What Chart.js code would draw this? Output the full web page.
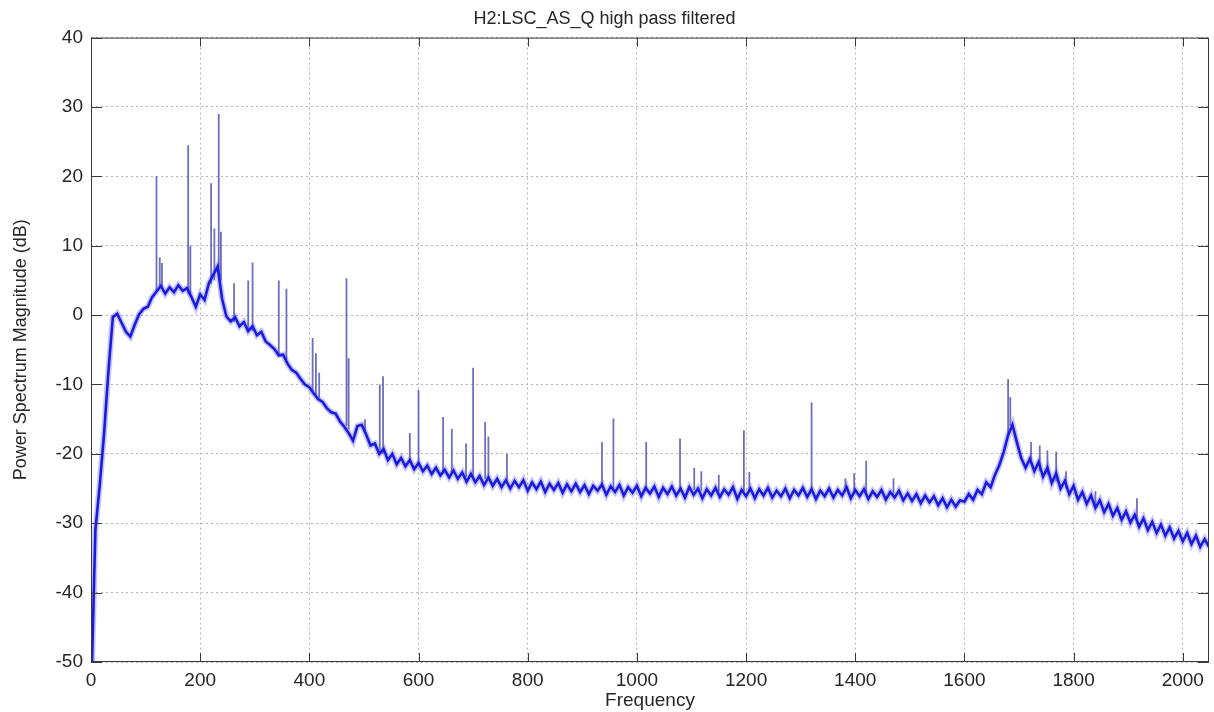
<!DOCTYPE html>
<html>
<head>
<meta charset="utf-8">
<title>H2:LSC_AS_Q high pass filtered</title>
<script src="https://cdn.jsdelivr.net/npm/chart.js@4.4.1/dist/chart.umd.min.js"></script>
<style>
  html, body { margin: 0; padding: 0; background: #fff; }
  #wrap { width: 1214px; height: 712px; }
</style>
</head>
<body>
<div id="wrap"><canvas id="psd" width="1214" height="712"></canvas></div>
<script>
const getEl = (id) => document.getElementById(id);

// --- chart text ---
const chartTitle = 'H2:LSC_AS_Q high pass filtered';
const xTitle = 'Frequency';
const yTitle = 'Power Spectrum Magnitude (dB)';

// --- axis ticks ---
const xTicks = [0, 200, 400, 600, 800, 1000, 1200, 1400, 1600, 1800, 2000];
const yTicks = [-50, -40, -30, -20, -10, 0, 10, 20, 30, 40];
const xMax = 2048;

// --- noise floor of the spectrum (Hz / dB) ---
const floorFreq = [
  0, 8, 16, 24, 32, 40, 48, 56, 64, 72, 80, 88, 96, 104, 112, 120,
  128, 136, 144, 152, 160, 168, 176, 184, 192, 200, 208, 216, 224, 232, 240, 248,
  256, 264, 272, 280, 288, 296, 304, 312, 320, 328, 336, 344, 352, 360, 368, 376,
  384, 392, 400, 408, 416, 424, 432, 440, 448, 456, 464, 472, 480, 488, 496, 504,
  512, 520, 528, 536, 544, 552, 560, 568, 576, 584, 592, 600, 608, 616, 624, 632,
  640, 648, 656, 664, 672, 680, 688, 696, 704, 712, 720, 728, 736, 744, 752, 760,
  768, 776, 784, 792, 800, 808, 816, 824, 832, 840, 848, 856, 864, 872, 880, 888,
  896, 904, 912, 920, 928, 936, 944, 952, 960, 968, 976, 984, 992, 1000, 1008, 1016,
  1024, 1032, 1040, 1048, 1056, 1064, 1072, 1080, 1088, 1096, 1104, 1112, 1120, 1128, 1136, 1144,
  1152, 1160, 1168, 1176, 1184, 1192, 1200, 1208, 1216, 1224, 1232, 1240, 1248, 1256, 1264, 1272,
  1280, 1288, 1296, 1304, 1312, 1320, 1328, 1336, 1344, 1352, 1360, 1368, 1376, 1384, 1392, 1400,
  1408, 1416, 1424, 1432, 1440, 1448, 1456, 1464, 1472, 1480, 1488, 1496, 1504, 1512, 1520, 1528,
  1536, 1544, 1552, 1560, 1568, 1576, 1584, 1592, 1600, 1608, 1616, 1624, 1632, 1640, 1648, 1656,
  1664, 1672, 1680, 1688, 1696, 1704, 1712, 1720, 1728, 1736, 1744, 1752, 1760, 1768, 1776, 1784,
  1792, 1800, 1808, 1816, 1824, 1832, 1840, 1848, 1856, 1864, 1872, 1880, 1888, 1896, 1904, 1912,
  1920, 1928, 1936, 1944, 1952, 1960, 1968, 1976, 1984, 1992, 2000, 2008, 2016, 2024, 2032, 2040,
  2048
];
const floorDb = [
  -56, -31, -24.5, -17, -8, -0.3, 0.2, -1.1, -2.4, -3.1, -1.4, 0.1, 0.9, 1.2, 2.6, 3.4,
  4.2, 3.1, 4.0, 3.3, 4.3, 3.5, 3.9, 2.6, 1.2, 3.0, 2.2, 4.6, 5.8, 7.0, 2.4, -0.2,
  -0.9, -0.3, -1.6, -1.0, -2.3, -1.6, -2.9, -2.4, -3.8, -4.3, -4.9, -5.8, -5.7, -7.0, -7.9, -8.3,
  -9.2, -10.0, -10.4, -11.3, -12.1, -12.5, -13.4, -14.0, -14.2, -15.3, -16.1, -17.0, -18.1, -16.0, -15.8, -17.2,
  -18.8, -18.5, -20.0, -19.3, -20.9, -20.0, -21.5, -20.6, -21.8, -20.9, -22.2, -21.3, -22.5, -21.7, -22.9, -22.0,
  -23.1, -22.3, -23.4, -22.4, -23.6, -22.7, -24.0, -22.9, -24.1, -23.2, -24.5, -23.4, -24.6, -23.6, -24.8, -23.8,
  -25.0, -23.9, -24.8, -23.8, -25.3, -24.1, -25.1, -24.0, -25.5, -24.3, -25.2, -24.2, -25.6, -24.4, -25.4, -24.3,
  -25.5, -24.5, -25.8, -24.6, -25.3, -24.4, -25.9, -24.7, -25.5, -24.5, -26.0, -24.8, -25.6, -24.6, -26.1, -24.9,
  -25.7, -24.7, -26.2, -24.9, -25.8, -24.7, -26.0, -25.0, -26.3, -24.8, -25.9, -25.0, -26.4, -25.1, -26.0, -24.9,
  -26.2, -25.1, -25.9, -24.8, -26.5, -25.2, -26.1, -25.0, -26.4, -25.1, -26.0, -24.9, -26.3, -25.3, -26.1, -25.0,
  -26.4, -25.2, -26.0, -24.9, -26.2, -25.1, -26.5, -25.3, -26.1, -25.0, -26.3, -25.2, -26.0, -24.8, -26.4, -25.2,
  -26.1, -25.1, -26.5, -25.4, -26.2, -25.2, -26.6, -25.5, -26.3, -25.3, -26.7, -25.7, -26.8, -25.8, -27.1, -26.0,
  -27.0, -26.1, -27.4, -26.4, -27.7, -26.6, -27.6, -26.7, -26.9, -25.8, -26.6, -25.2, -25.8, -24.1, -24.8, -23.0,
  -21.6, -19.7, -17.3, -15.8, -18.3, -20.6, -22.0, -20.7, -22.5, -21.2, -23.3, -22.0, -24.2, -22.8, -25.0, -23.9,
  -25.8, -24.6, -26.6, -25.5, -27.2, -26.0, -27.8, -26.7, -28.4, -27.2, -28.9, -27.8, -29.5, -28.3, -29.9, -28.8,
  -30.5, -29.3, -31.0, -29.8, -31.4, -30.2, -31.8, -30.6, -32.2, -31.1, -32.6, -31.4, -33.0, -31.8, -33.4, -32.3,
  -33.4
];

// --- narrow lines sticking out of the floor: frequency, foot and top (dB) ---
const lineFreq = [120, 126, 130, 178, 182, 220, 226, 234, 238, 262, 288, 296, 344, 358, 406, 412, 418, 468, 472, 502,
  529, 535, 584, 600, 645, 661, 687, 700, 722, 728, 762, 936, 957, 1017, 1079, 1105, 1118, 1150, 1196, 1206,
  1320, 1382, 1398, 1420, 1470, 1680, 1684, 1722, 1738, 1752, 1768, 1786, 1840, 1916];
const lineFoot = [3.5, 4, 4, 3, 3, 4.5, 5, 6, 5, -1, -2, -2.3, -6, -6.5, -11, -11.5, -12, -16, -16.5, -17,
  -19.5, -20, -21.3, -21.8, -22.6, -22.9, -23.3, -23.3, -23.6, -23.6, -24, -24.9, -25, -25.1, -25.2, -25.2, -25.3, -25.4, -25.4, -25.4,
  -25.5, -25.5, -25.5, -25.6, -25.8, -17, -16, -21.5, -22.5, -23, -24, -25, -27.5, -29.8];
const lineTop = [20, 8.3, 7.5, 24.5, 10, 19, 12.5, 29, 12, 4.6, 5, 7.6, 5, 3.8, -3.3, -5.5, -8.3, 5.3, -6.2, -15,
  -10, -8.8, -17, -10.8, -14.7, -16.4, -18.5, -7.6, -15.4, -17.5, -20, -18.3, -14.9, -18.3, -17.8, -22, -22.5, -23, -16.6, -22.6,
  -12.6, -23.5, -22.8, -21, -23.5, -9.2, -11.8, -18.3, -18.8, -19.5, -19.7, -22.5, -25.4, -26.4];

// build the point lists the library wants
const floorPoints = floorFreq.map((f, i) => ({ x: f, y: floorDb[i] }));
const linePoints = [];
lineFreq.forEach((f, i) => {
  linePoints.push({ x: f, y: lineFoot[i] }, { x: f, y: lineTop[i] }, { x: f, y: null });
});

const textFont = 'Liberation Sans, Arial, Helvetica, sans-serif';
const textColor = '#262626';

// MATLAB-like box with inward tick marks on all four sides
const matlabBox = {
  id: 'matlabBox',
  afterDatasetsDraw(chart) {
    const { ctx, chartArea: a, scales: { x, y } } = chart;
    ctx.save();
    ctx.strokeStyle = '#3a3a3a';
    ctx.lineWidth = 1;
    ctx.strokeRect(a.left + 0.5, a.top + 0.5, a.right - a.left - 1, a.bottom - a.top - 1);
    ctx.beginPath();
    x.ticks.forEach(t => {
      const px = Math.round(x.getPixelForValue(t.value)) + 0.5;
      ctx.moveTo(px, a.bottom); ctx.lineTo(px, a.bottom - 9);
      ctx.moveTo(px, a.top); ctx.lineTo(px, a.top + 9);
    });
    y.ticks.forEach(t => {
      const py = Math.round(y.getPixelForValue(t.value)) + 0.5;
      ctx.moveTo(a.left, py); ctx.lineTo(a.left + 11, py);
      ctx.moveTo(a.right, py); ctx.lineTo(a.right - 11, py);
    });
    ctx.stroke();
    ctx.restore();
  }
};

new Chart(getEl('psd').getContext('2d'), {
  type: 'line',
  data: {
    datasets: [
      {
        // main trace
        data: floorPoints,
        borderColor: '#1a1ae0',
        borderWidth: 2.6,
        pointRadius: 0,
        tension: 0,
        order: 0
      },
      {
        // soft halo, the scan in the picture is a bit blurred
        data: floorPoints,
        borderColor: 'rgba(90, 90, 240, 0.35)',
        borderWidth: 6,
        pointRadius: 0,
        tension: 0,
        order: 1
      },
      {
        data: linePoints,
        borderColor: 'rgba(75, 75, 175, 0.8)',
        borderWidth: 1.8,
        pointRadius: 0,
        tension: 0,
        spanGaps: false,
        order: 2
      }
    ]
  },
  options: {
    responsive: false,
    animation: false,
    layout: { padding: { left: 0, right: 5, top: 0, bottom: 0 } },
    plugins: {
      legend: { display: false },
      tooltip: { enabled: false },
      title: {
        display: true,
        text: chartTitle,
        color: textColor,
        font: { family: textFont, size: 18, weight: 'normal' },
        padding: { top: 8, bottom: 8 }
      }
    },
    scales: {
      x: {
        type: 'linear',
        min: 0,
        max: xMax,
        afterBuildTicks: (axis) => { axis.ticks = xTicks.map(v => ({ value: v })); },
        afterFit: (axis) => { axis.height = 50; },
        grid: { color: '#b4b4b4', drawTicks: false },
        border: { display: false, dash: [2, 3] },
        ticks: {
          color: textColor,
          padding: 7,
          maxRotation: 0,
          autoSkip: false,
          font: { family: textFont, size: 19 },
          callback: (v) => String(v)
        },
        title: {
          display: true,
          text: xTitle,
          color: textColor,
          font: { family: textFont, size: 19 },
          padding: { top: 0, bottom: 0 }
        }
      },
      y: {
        min: -50,
        max: 40,
        afterBuildTicks: (axis) => { axis.ticks = yTicks.map(v => ({ value: v })); },
        afterFit: (axis) => { axis.width = 91; },
        grid: { color: '#b4b4b4', drawTicks: false },
        border: { display: false, dash: [2, 3] },
        ticks: {
          color: textColor,
          padding: 8,
          font: { family: textFont, size: 19 },
          callback: (v) => String(v)
        },
        title: {
          display: true,
          text: yTitle,
          color: textColor,
          font: { family: textFont, size: 18 },
          padding: { top: 10, bottom: 0 }
        }
      }
    }
  },
  plugins: [matlabBox]
});
</script>
</body>
</html>
